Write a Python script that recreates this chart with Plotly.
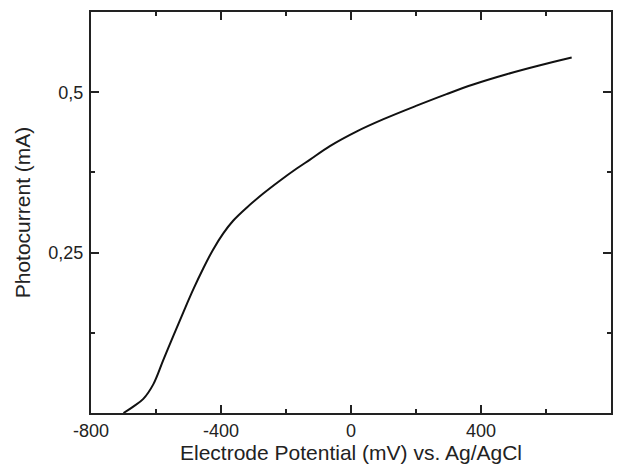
import plotly.graph_objects as go

# Data
potential_mv = [-700, -670, -639, -608, -578, -547, -516, -485, -454, -424, -393, -362,
                -321, -270, -219, -167, -126, -65, 18, 100, 202, 294, 376, 479, 582, 679]
photocurrent_ma = [0.0, 0.010, 0.022, 0.045, 0.082, 0.120, 0.157, 0.193, 0.226, 0.255, 0.280, 0.300,
                   0.320, 0.342, 0.362, 0.381, 0.395, 0.416, 0.439, 0.458, 0.479, 0.497, 0.512, 0.528,
                   0.542, 0.554]

x_major = [-800, -400, 0, 400, 800]
x_major_text = ["-800", "-400", "0", "400", "800"]
x_minor = [-600, -200, 200, 600]
y_major = [0.25, 0.5]
y_major_text = ["0,25", "0,5"]
y_minor = [0.125, 0.375]

x_range = [-800, 800]
y_range = [0, 0.625]

ink = "#222222"
font_family = "Liberation Sans, Arial, Helvetica, sans-serif"

fig = go.Figure()
fig.add_trace(go.Scatter(
    x=potential_mv, y=photocurrent_ma, mode="lines",
    line=dict(color="#111111", width=2, shape="spline", smoothing=1.0),
    showlegend=False, hoverinfo="skip",
))

# the page body has an 8px margin, so the figure is 8px smaller on each axis
fig.update_layout(
    template="none",
    width=618, height=462,
    margin=dict(l=83, r=15, t=4, b=57),
    paper_bgcolor="white", plot_bgcolor="white",
    font=dict(family=font_family, color=ink, size=18),
    xaxis=dict(
        range=x_range, tickmode="array", tickvals=x_major, ticktext=x_major_text,
        ticks="inside", ticklen=8, tickwidth=1.5, tickcolor=ink,
        minor=dict(tickvals=x_minor, ticks="inside", ticklen=4, tickwidth=1.5, tickcolor=ink),
        showline=True, linecolor=ink, linewidth=2, mirror="allticks",
        showgrid=False, zeroline=False, automargin=False,
        tickfont=dict(size=18), ticklabelstandoff=0,
        title=dict(text="Electrode Potential (mV) vs. Ag/AgCl", font=dict(size=21), standoff=6),
    ),
    yaxis=dict(
        range=y_range, tickmode="array", tickvals=y_major, ticktext=y_major_text,
        ticks="inside", ticklen=8, tickwidth=1.5, tickcolor=ink,
        minor=dict(tickvals=y_minor, ticks="inside", ticklen=4, tickwidth=1.5, tickcolor=ink),
        showline=True, linecolor=ink, linewidth=2, mirror="allticks",
        showgrid=False, zeroline=False, automargin=False,
        tickfont=dict(size=18), ticklabelstandoff=2,
        title=dict(text="Photocurrent (mA)", font=dict(size=21), standoff=12),
    ),
)

fig.write_html("out.html")
